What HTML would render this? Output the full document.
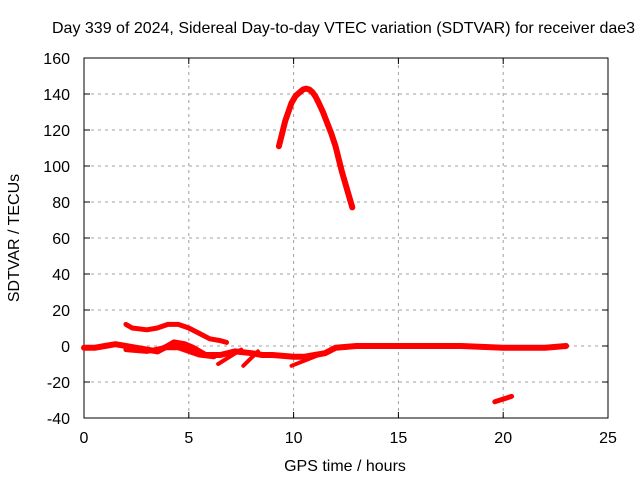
<!DOCTYPE html>
<html><head><meta charset="utf-8"><style>
body{margin:0;background:#fff}
svg{font-family:"Liberation Sans",sans-serif;font-size:16px}
</style></head><body>
<svg width="640" height="480">
<rect width="640" height="480" fill="#fff"/>
<text x="52" y="33">Day 339 of 2024, Sidereal Day-to-day VTEC variation (SDTVAR) for receiver dae3</text>
<g id="grid"></g>
<g id="axes"></g>
<g id="series"></g>
<text x="345" y="471" text-anchor="middle">GPS time / hours</text>
<text transform="translate(19,238) rotate(-90)" text-anchor="middle">SDTVAR / TECUs</text>
</svg>
<script>
const xTicks=[0,5,10,15,20,25];
const yTicks=[-40,-20,0,20,40,60,80,100,120,140,160];
const arcH=[9.3,9.45,9.6,9.75,9.9,10.1,10.3,10.45,10.6,10.75,10.9,11.05,11.2,11.4,11.6,11.8,12.0,12.15,12.3,12.45,12.6,12.8];
const arcV=[111,118,125,130,135,139,141,142.5,143,142.5,141,138.5,135,130,124,118,111,104,97,91,85,77];
const upH=[2.0,2.3,3.0,3.5,4.0,4.5,5.0,5.5,6.0,6.5,6.8];
const upV=[12,10,9,10,12,12,10,7,4,3,2];
const mainH=[0,0.5,1,1.5,2,2.5,3,3.5,4,4.3,4.8,5.2,5.8,6.5,7.2,8,8.5,9,10,10.5,11,11.5,12,13,15,16,18,20,22,23];
const mainV=[-1,-1,0,1,0,-1,-2,-3,0,2,1,-1,-5,-5,-3,-4,-5,-5,-6,-6,-5,-4,-1,0,0,0,0,-1,-1,0];
const lowH=[2,3,3.8,4.5,5,5.5,6.2];
const lowV=[-2,-3,-1,-1,-3,-5,-6];
const br1H=[6.4,7.5];const br1V=[-10,-2];
const br2H=[7.6,8.3];const br2V=[-11,-3];
const br3H=[9.9,11.2];const br3V=[-11,-5];
const endH=[19.6,20.4];const endV=[-31,-28];
const X0=84,X1=608,Y0=418,Y1=58;
const sx=h=>X0+(h-0)/(25-0)*(X1-X0);
const sy=v=>Y0-(v+40)/200*(Y0-Y1);
const NS="http://www.w3.org/2000/svg";
function mk(t,a,p){const e=document.createElementNS(NS,t);for(const k in a)e.setAttribute(k,a[k]);p.appendChild(e);return e;}
const grid=document.getElementById('grid'),axes=document.getElementById('axes'),ser=document.getElementById('series');
xTicks.forEach(t=>{
 const x=sx(t);
 if(t>0&&t<25){const l=mk('line',{x1:x,x2:x,y1:Y1,y2:Y0,stroke:'#a0a0a0','stroke-dasharray':'3,4'},grid);
 
 }
 mk('line',{x1:x,x2:x,y1:Y0,y2:Y0-6,stroke:'#000'},axes);
 mk('line',{x1:x,x2:x,y1:Y1,y2:Y1+6,stroke:'#000'},axes);
 const tx=mk('text',{x:x,y:Y0+25,'text-anchor':'middle'},axes);tx.textContent=t;
 
 
});
yTicks.forEach(t=>{
 const y=sy(t);
 if(t>-40&&t<160){const l=mk('line',{x1:X0,x2:X1,y1:y,y2:y,stroke:'#a0a0a0','stroke-dasharray':'3,4'},grid);
 
 }
 mk('line',{x1:X0,x2:X0+6,y1:y,y2:y,stroke:'#000'},axes);
 mk('line',{x1:X1,x2:X1-6,y1:y,y2:y,stroke:'#000'},axes);
 const tx=mk('text',{x:X0-14,y:y+6,'text-anchor':'end'},axes);tx.textContent=t;
 
 
});
mk('rect',{x:X0,y:Y1,width:X1-X0,height:Y0-Y1,fill:'none',stroke:'#000'},axes);
function line(H,V,name,w){
 const p=mk('polyline',{points:H.map((h,i)=>sx(h)+','+sy(V[i])).join(' '),fill:'none',stroke:'#ff0000','stroke-width':w,'stroke-linejoin':'round','stroke-linecap':'round'},ser);
 
 
}
line(arcH,arcV,'series-arc',6);
line(upH,upV,'series-upper',5);
line(mainH,mainV,'series-main',6);
line(lowH,lowV,'series-lower',5);
line(br1H,br1V,'series-branch-1',4);
line(br2H,br2V,'series-branch-2',4);
line(br3H,br3V,'series-branch-3',4);
line(endH,endV,'series-end',5);
</script>
</body></html>
